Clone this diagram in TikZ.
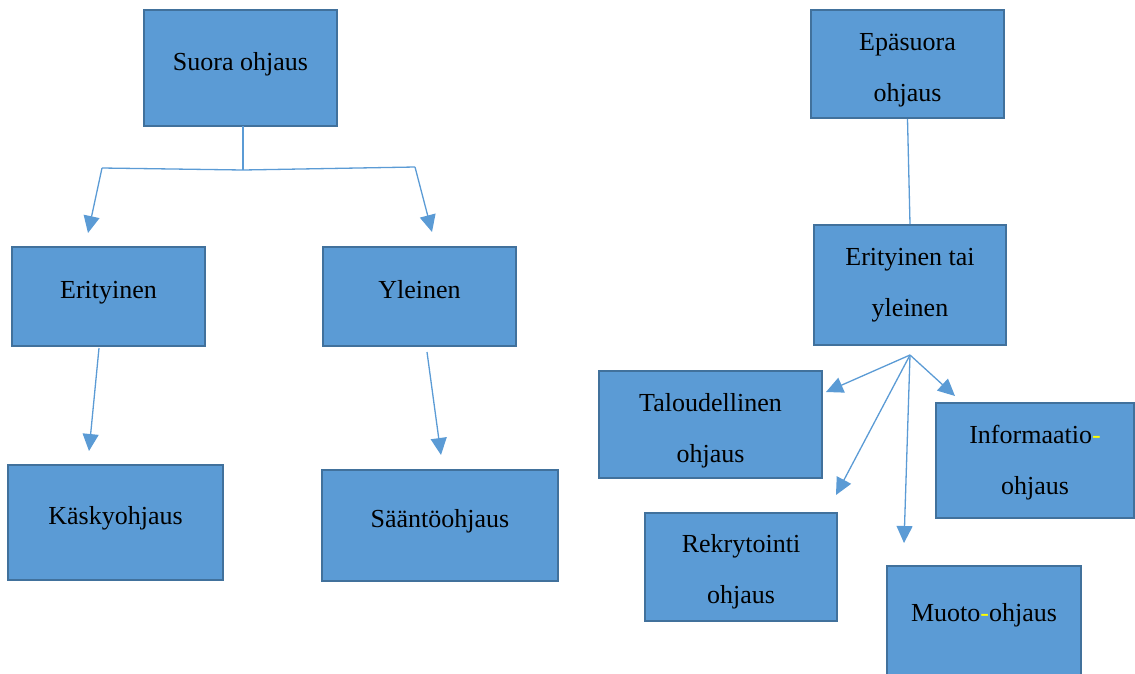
\documentclass[tikz,border=0pt]{standalone}
\usepackage{fontspec}
\setmainfont{Liberation Serif}
\usetikzlibrary{arrows.meta,calc}
\definecolor{boxfill}{HTML}{5B9BD5}
\definecolor{boxline}{HTML}{41719C}
\definecolor{linkc}{HTML}{5B9BD5}
\definecolor{hyph}{HTML}{FFFF00}
\newcommand{\tup}[1]{\rule{0pt}{#1}}
\tikzset{
  box/.style={draw=boxline, fill=boxfill, line width=2pt, rectangle, inner sep=0pt,
    font=\fontsize{26pt}{51pt}\selectfont, text=black},
  onebox/.style={box, text height=17.8pt, text depth=13pt},
  twobox/.style={box, align=center},
  link/.style={draw=linkc, line width=1.3pt},
  arr/.style={link, -{Triangle[length=17pt,width=16pt]}}
}
\begin{document}
\begin{tikzpicture}[x=1pt,y=-1pt]
\useasboundingbox (0,0) rectangle (1135,673);
\clip (0,0) rectangle (1135,673);
% left tree
\node[onebox, minimum width=193pt, minimum height=116pt] (suora) at (240.5,68) {Suora ohjaus};
\node[onebox, minimum width=193pt, minimum height=99pt] (erit) at (108.5,296.5) {Erityinen};
\node[onebox, minimum width=193pt, minimum height=99pt] (yleinen) at (419.5,296.5) {Yleinen};
\node[onebox, minimum width=215pt, minimum height=115pt] (kasky) at (115.5,522.5) {Käskyohjaus};
\node[onebox, minimum width=236pt, minimum height=111pt] (saanto) at (440,525.5) {Sääntöohjaus};
% right tree
\node[twobox, minimum width=193pt, minimum height=108pt] (epa) at (907.5,64) {\tup{29.8pt}Epäsuora\\ohjaus};
\node[twobox, minimum width=192pt, minimum height=120pt] (ertai) at (910,285) {Erityinen tai\\yleinen};
\node[twobox, minimum width=223pt, minimum height=107pt] (talous) at (710.5,424.5) {\tup{29.8pt}Taloudellinen\\ohjaus};
\node[twobox, minimum width=198pt, minimum height=115pt] (info) at (1035,460.5) {\tup{21.8pt}Informaatio\textcolor{hyph}{-}\\ohjaus};
\node[twobox, minimum width=192pt, minimum height=108pt] (rekry) at (741,567) {\tup{27.8pt}Rekrytointi\\ohjaus};
\node[box, text height=17.8pt, text depth=46pt, minimum width=194pt, minimum height=140pt] (muoto) at (984,636) {Muoto\textcolor{hyph}{-}ohjaus};
% connector points
\coordinate (j0) at (243,126);
\coordinate (j1) at (243,170);
\coordinate (jl) at (102,168);
\coordinate (jr) at (415,167);
\coordinate (tl) at (88,233);
\coordinate (tr) at (432,232);
\coordinate (e1) at (99,348);
\coordinate (e2) at (89,451);
\coordinate (y1) at (427,352);
\coordinate (y2) at (441,455);
\coordinate (hub) at (910,355);
\coordinate (ta) at (826,392);
\coordinate (ra) at (836,495);
\coordinate (ma) at (904,543);
\coordinate (ia) at (955,396);
% connectors
\draw[link] (j0) -- (j1);
\draw[link] (jl) -- (j1) -- (jr);
\draw[arr] (jl) -- (tl);
\draw[arr] (jr) -- (tr);
\draw[arr] (e1) -- (e2);
\draw[arr] (y1) -- (y2);
\draw[link] (epa.south) -- (ertai.north);
\draw[arr] (hub) -- (ta);
\draw[arr] (hub) -- (ra);
\draw[arr] (hub) -- (ma);
\draw[arr] (hub) -- (ia);
\end{tikzpicture}
\end{document}
